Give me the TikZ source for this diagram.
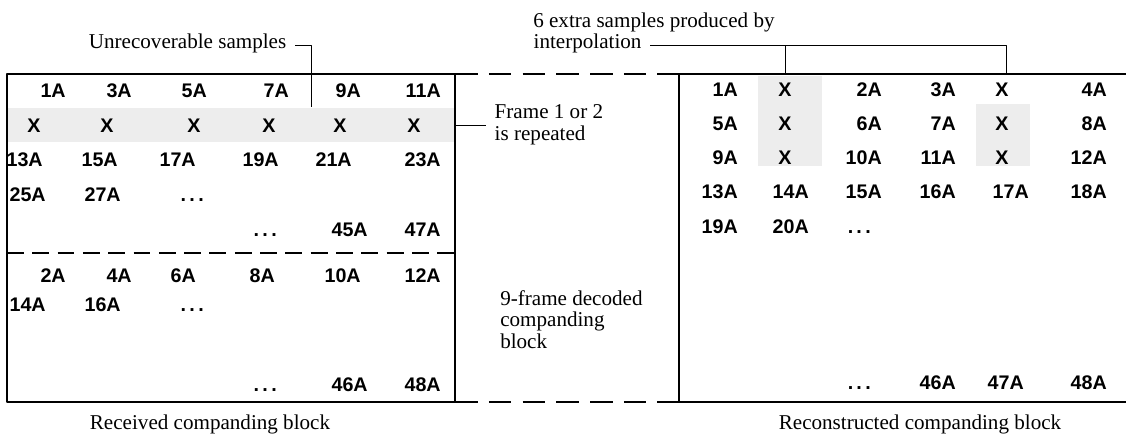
\documentclass[tikz,border=0pt]{standalone}
\usepackage{fontspec}
\setmainfont{Liberation Serif}
\newfontfamily\smpfont{Liberation Sans}
\usetikzlibrary{positioning}

\begin{document}
\begin{tikzpicture}[x=0.025cm, y=-0.025cm, line join=round, font=\fontsize{15}{15.5}\selectfont,
	smp/.style={font=\smpfont\bfseries\fontsize{14}{16}\selectfont, inner sep=0pt, anchor=base east},
	lost/.style={font=\smpfont\bfseries\fontsize{14}{16}\selectfont, inner sep=0pt, anchor=base},
	note/.style={inner sep=0pt, align=left},
	oneline/.style={inner sep=0pt, text height=0.68em, text depth=0.2em},
	frameline/.style={line width=1.4pt},
	gapline/.style={line width=1.4pt, dash pattern=on 16pt off 8pt},
	hook/.style={line width=0.7pt},
	grain/.style={fill=black!7, draw=none}]
	\useasboundingbox (0,0) rectangle (1126,436);
	% stippled samples
	\fill[grain] (7,108) rectangle (455,142);
	\fill[grain] (758,76) rectangle (822,166);
	\fill[grain] (976,104) rectangle (1030,166);
	% the two blocks
	\coordinate (ltl) at (7,74); \coordinate (ltr) at (455,74);
	\coordinate (lbl) at (7,402); \coordinate (lbr) at (455,402);
	\coordinate (rtl) at (679,74); \coordinate (rtr) at (1126,74);
	\coordinate (rbl) at (679,402); \coordinate (rbr) at (1126,402);
	\coordinate (halfl) at (7,253); \coordinate (halfr) at (455,253);
	\draw[frameline] (ltr) -- (ltl) -- (lbl) -- (lbr) -- cycle;
	\draw[frameline] (rtr) -- (rtl) -- (rbl) -- (rbr);
	\draw[gapline] (ltr) -- (rtl);
	\draw[gapline] (lbr) -- (rbl);
	\draw[gapline, dash pattern=on 12pt off 6pt] (halfl) -- (halfr);
	% received block
	\foreach \x/\y/\t [count=\i] in {66/97/1A, 132/97/3A, 207/97/5A, 289/97/7A, 361/97/9A, 441/97/11A,
		43/166/13A, 118/166/15A, 196/166/17A, 279/166/19A, 352/166/21A, 441/166/23A,
		46/201/25A, 121/201/27A, 204/201/{.\,.\,.},
		277/236/{.\,.\,.}, 368/236/45A, 441/236/47A,
		66/282/2A, 132/282/4A, 196/282/6A, 275/282/8A, 361/282/10A, 441/282/12A,
		46/311/14A, 121/311/16A, 204/311/{.\,.\,.},
		277/391/{.\,.\,.}, 368/391/46A, 441/391/48A}
		\node[smp] (rx\i) at (\x,\y) {\t};
	\foreach \x [count=\i] in {34,107,194,269,340,414}
		\node[lost] (rxlost\i) at (\x,132) {X};
	% reconstructed block
	\foreach \x/\y/\t [count=\i] in {738/96/1A, 882/96/2A, 956/96/3A, 1107/96/4A,
		738/130/5A, 882/130/6A, 956/130/7A, 1107/130/8A,
		738/164/9A, 882/164/10A, 956/164/11A, 1107/164/12A,
		738/198/13A, 809/198/14A, 882/198/15A, 956/198/16A, 1029/198/17A, 1107/198/18A,
		738/233/19A, 809/233/20A, 871/233/{.\,.\,.},
		871/389/{.\,.\,.}, 956/389/46A, 1024/389/47A, 1107/389/48A}
		\node[smp] (rc\i) at (\x,\y) {\t};
	\foreach \y [count=\i] in {96,130,164}{
		\node[lost] (xa\i) at (785,\y) {X};
		\node[lost] (xb\i) at (1002,\y) {X};
	}
	% notes
	\node[oneline, anchor=east, inner xsep=6pt] (unrec) at (295,45) {Unrecoverable samples};
	\coordinate (unrecend) at (311,107);
	\draw[hook] (unrec.east) -| (unrecend);
	\node[note, anchor=west, inner xsep=6pt] (frame) at (486,125) {Frame 1 or 2\\is repeated};
	\coordinate (framefoot) at (455,125);
	\draw[hook] (framefoot) -- (frame.west);
	\node[oneline, anchor=west] (interpA) at (533,24) {6 extra samples produced by};
	\node[oneline, anchor=west, inner xsep=6pt] (interpB) at (525,45) {interpolation};
	\coordinate (xtopA) at (785,74); \coordinate (xtopB) at (1006,74);
	\draw[hook] (interpB.east) -| (xtopB);
	\draw[hook] (xtopA) -- (xtopA |- interpB.east);
	\node[note, anchor=north west] (nineframe) at (500,290) {9-frame decoded\\companding\\block};
	\node[oneline] (rxcap) at (210,426) {Received companding block};
	\node[oneline] (rccap) at (920,426) {Reconstructed companding block};
\end{tikzpicture}
\end{document}
